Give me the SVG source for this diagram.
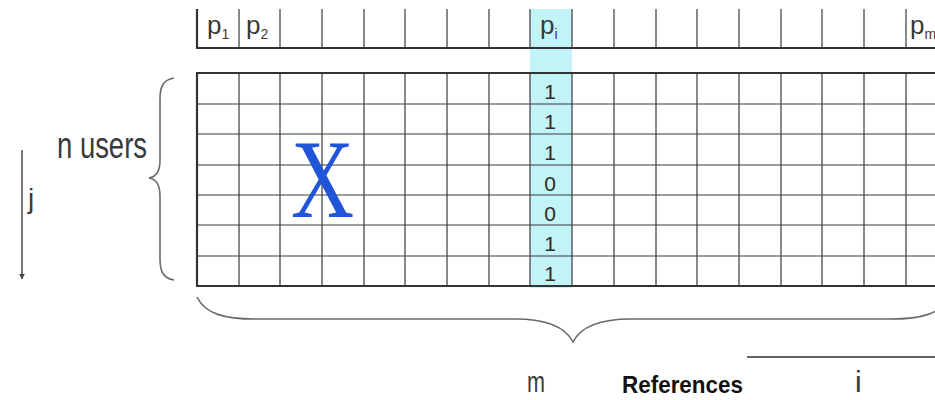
<svg xmlns="http://www.w3.org/2000/svg" width="935" height="400" viewBox="0 0 935 400">
<style>
.thin{stroke:#3a3a3a;stroke-width:1.2;fill:none}
.thick{stroke:#333;stroke-width:2.2;fill:none}
.brace{stroke:#6a6a6a;stroke-width:1.6;fill:none}
.lbl{font-family:"Liberation Sans",Arial,sans-serif;fill:#3a3a3a}
.dig{font-family:"Liberation Sans",Arial,sans-serif;fill:#2a2a2a;font-size:21px;text-anchor:middle}
</style>
<defs>
<marker id="ah" viewBox="0 0 10 10" refX="9" refY="5" markerWidth="6" markerHeight="6" orient="auto" markerUnits="userSpaceOnUse">
<path d="M0,0 L10,5 L0,10 z" fill="#444"/>
</marker>
</defs>
<rect width="935" height="400" fill="#fff"/>
<g id="highlight">
<rect x="530" y="9" width="42" height="279" fill="#c2f3f7"/>
</g>
<g id="header">
<g class="thin">
<path d="M239 9V48M280 9V48M322 9V48M364 9V48M405 9V48M447 9V48M489 9V48M530 9V48M572 9V48M614 9V48M656 9V48M697 9V48M739 9V48M781 9V48M822 9V48M864 9V48M906 9V48"/>
</g>
<path class="thick" d="M197 9V48M196 48H935"/>
<text class="lbl" x="207" y="34" font-size="26">p<tspan font-size="14" dy="5">1</tspan></text>
<text class="lbl" x="246" y="34" font-size="26">p<tspan font-size="14" dy="5">2</tspan></text>
<text class="lbl" x="540" y="34" font-size="26">p<tspan font-size="14" dy="5">i</tspan></text>
<text class="lbl" x="910" y="34" font-size="26">p<tspan font-size="14" dy="5">m</tspan></text>
</g>
<g id="matrix">
<g class="thin">
<path d="M239 73V286M280 73V286M322 73V286M364 73V286M405 73V286M447 73V286M489 73V286M530 73V286M572 73V286M614 73V286M656 73V286M697 73V286M739 73V286M781 73V286M822 73V286M864 73V286M906 73V286"/>
<path d="M197 104H935M197 134H935M197 165H935M197 195H935M197 225H935M197 256H935"/>
</g>
<path class="thick" d="M196 73H935M197 73V286M196 286H935"/>
<text x="0" y="0" font-family="'Liberation Serif','Times New Roman',serif" font-size="112" fill="#1f55d6" text-anchor="middle" transform="translate(322.5,217) scale(0.78,1)">X</text>
</g>
<g id="column-values">
<text class="dig" x="550" y="99">1</text>
<text class="dig" x="550" y="129">1</text>
<text class="dig" x="550" y="160">1</text>
<text class="dig" x="550" y="191">0</text>
<text class="dig" x="550" y="221">0</text>
<text class="dig" x="550" y="251">1</text>
<text class="dig" x="550" y="281">1</text>
</g>
<g id="users-label">
<path class="brace" d="M174 78 C162 80 160 88 160 100 L160 160 C160 172 156 177 149 178 C156 179 160 184 160 196 L160 258 C160 270 162 278 174 280"/>
<text class="lbl" x="57" y="158" font-size="36" textLength="90" lengthAdjust="spacingAndGlyphs">n users</text>
</g>
<g id="connectors">
<line x1="22" y1="150" x2="22" y2="279" stroke="#555" stroke-width="1.6" marker-end="url(#ah)"/>
<line x1="747" y1="357" x2="935" y2="357" stroke="#666" stroke-width="2.2"/>
</g>
<g id="j-label">
<text class="lbl" x="28" y="208" font-size="28">j</text>
</g>
<g id="items-label">
<path class="brace" d="M197 297 C205 314 225 319 255 319 L515 319 C545 319 565 326 573 342 C581 326 601 319 631 319 L891 319 C921 319 941 314 949 297"/>
<text class="lbl" x="527" y="392" font-size="30" textLength="18" lengthAdjust="spacingAndGlyphs">m</text>
</g>
<g id="references">
<text x="622" y="393" font-family="'Liberation Sans',sans-serif" font-weight="bold" font-size="24" fill="#111" textLength="121" lengthAdjust="spacingAndGlyphs">References</text>
<text class="lbl" x="855" y="392" font-size="30">i</text>
</g>
</svg>
